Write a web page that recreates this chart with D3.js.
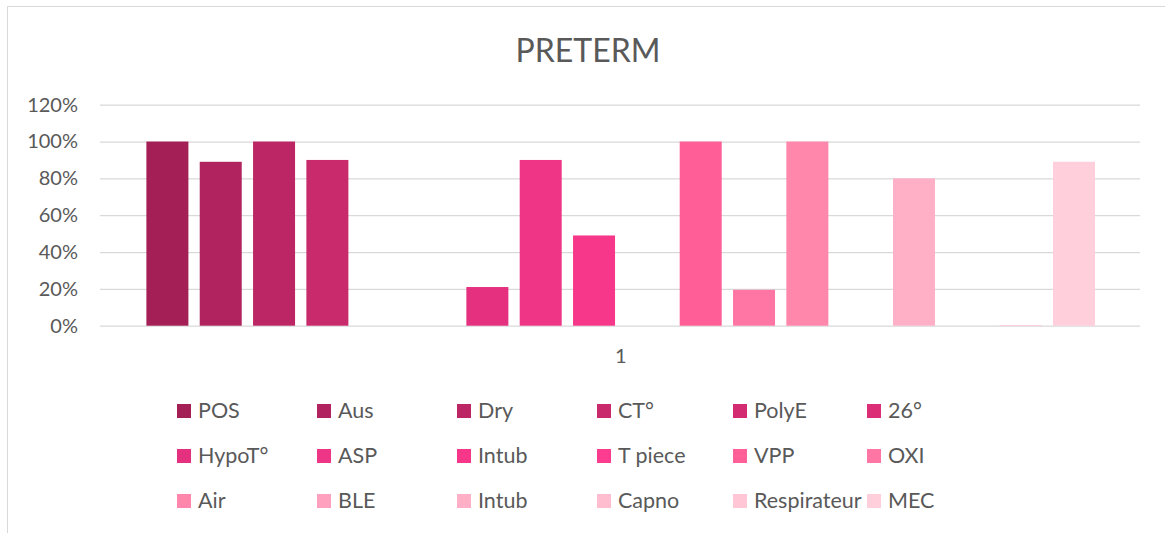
<!DOCTYPE html>
<html>
<head>
<meta charset="utf-8">
<script src="https://cdn.jsdelivr.net/npm/d3@7"></script>
<style>
html,body{margin:0;padding:0;background:#fff;}
svg{display:block;}
text{font-family:Lato,"Open Sans",sans-serif;fill:#595959;}
</style>
</head>
<body>
<svg id="chart" width="1165" height="533"></svg>
<script>
const title = "PRETERM";
const categories = ["1"];
const seriesNames = ["POS","Aus","Dry","CT°","PolyE","26°","HypoT°","ASP","Intub","T piece","VPP","OXI","Air","BLE","Intub","Capno","Respirateur","MEC"];
const seriesValues = [100, 89, 100, 90, 0, 0, 21, 90, 49, 0, 100, 19.5, 100, 0, 80, 0, 0.4, 89];
const seriesColors = ["#A31F56","#B0235E","#BD2664","#C92A6B","#D42C70","#DC2E76","#E4307F","#EF3585","#F7378A","#FC3D8F","#FF5E97","#FF75A4","#FF87AB","#FFA1BE","#FFB0C7","#FFBDCF","#FFC6D5","#FFCFDC"];
const yTicks = [0, 20, 40, 60, 80, 100, 120];

const svg = d3.select("#chart");

// chart border
svg.append("rect").attr("x",7.5).attr("y",6.5).attr("width",1300).attr("height",700)
  .attr("fill","none").attr("stroke","#D9D9D9").attr("stroke-width",1);

const plot = {left:100, right:1140, top:104.7, bottom:325.7};

const y = d3.scaleLinear().domain([0,120]).range([plot.bottom, plot.top]);
const x0 = d3.scaleBand().domain(categories).range([plot.left + 0.7, plot.right + 0.7])
  .paddingInner(0).paddingOuter(0.0417);
const x1 = d3.scaleBand().domain(d3.range(seriesNames.length)).range([0, x0.bandwidth()])
  .paddingInner(0.2125).paddingOuter(0.10625);

// title
svg.append("text").attr("x",588).attr("y",62).attr("text-anchor","middle")
  .style("font-size","32px").text(title);

// gridlines
const yAxis = d3.axisLeft(y).tickValues(yTicks).tickFormat(d => d + "%")
  .tickSize(-(plot.right - plot.left)).tickPadding(22);
const ga = svg.append("g").attr("transform",`translate(${plot.left},0)`).call(yAxis);
ga.select(".domain").remove();
ga.selectAll(".tick line").attr("stroke","#D9D9D9").attr("stroke-width",1.3);
ga.selectAll(".tick text").style("font-size","20px").attr("fill","#595959")
  .style("font-family","Lato,'Open Sans',sans-serif");

// bars
const g = svg.append("g");
categories.forEach(cat => {
  g.selectAll("rect.bar").data(seriesValues).enter().append("rect")
    .attr("class","bar")
    .attr("x",(d,i) => x0(cat) + x1(i))
    .attr("width", x1.bandwidth())
    .attr("y", d => y(d))
    .attr("height", d => y(0) - y(d))
    .attr("fill",(d,i) => seriesColors[i]);
});

// category axis label
const xAxis = d3.axisBottom(x0).tickSize(0).tickPadding(23);
const gx = svg.append("g").attr("transform",`translate(0,${plot.bottom})`).call(xAxis);
gx.select(".domain").remove();
gx.selectAll(".tick text").style("font-size","20px").attr("fill","#595959")
  .style("font-family","Lato,'Open Sans',sans-serif");

// legend
const colX = [177, 317, 457, 597, 733, 867];
const rowY = [404, 449, 494];
const lg = svg.append("g");
seriesNames.forEach((name, i) => {
  const cx = colX[i % 6], ry = rowY[Math.floor(i / 6)];
  lg.append("rect").attr("x",cx).attr("y",ry).attr("width",14).attr("height",14)
    .attr("fill",seriesColors[i]);
  lg.append("text").attr("x",cx + 21).attr("y",ry + 14)
    .style("font-size","21.5px").text(name);
});
</script>
</body>
</html>
